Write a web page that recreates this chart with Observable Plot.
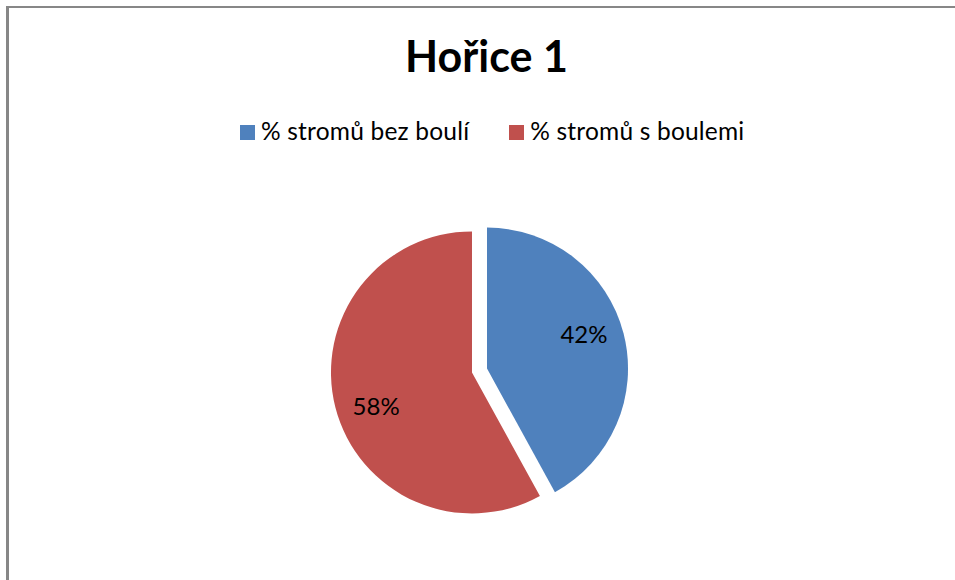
<!DOCTYPE html>
<html>
<head>
<meta charset="utf-8">
<script src="https://cdn.jsdelivr.net/npm/d3@7"></script>
<script src="https://cdn.jsdelivr.net/npm/@observablehq/plot@0.6"></script>
<style>
  html, body { margin: 0; padding: 0; background: #fff; overflow: hidden; }
  body { width: 955px; height: 580px; position: relative; font-family: Lato, "Open Sans", sans-serif; }
  #frame { position: absolute; left: 6px; top: 6px; width: 1000px; height: 700px;
           border-left: 3px solid #878787; border-top: 2px solid #878787; }
  #title { position: absolute; left: 0; width: 955px; top: 31px; text-align: center;
           font-weight: bold; font-size: 43px; line-height: 50px; color: #000; padding-left: 18px; box-sizing: border-box; }
  #legend { position: absolute; left: 240px; top: 116px; display: flex; align-items: center;
            font-size: 24.5px; line-height: 30px; color: #000; white-space: nowrap; letter-spacing: 0.2px; }
  .item { display: flex; align-items: center; }
  .sw { width: 15px; height: 15px; margin-right: 6px; position: relative; top: 1px; }
  #chart { position: absolute; left: 0; top: 150px; }
</style>
</head>
<body>
<div id="frame"></div>
<div id="title"></div>
<div id="legend"></div>
<div id="chart"></div>
<script>
const title = "Hořice 1";
const categories = ["% stromů bez boulí", "% stromů s boulemi"];
const values = [42, 58];
const colors = ["#4F81BD", "#C0504D"];

const data = categories.map((c, i) => ({category: c, value: values[i]}));

document.getElementById("title").textContent = title;
const legend = document.getElementById("legend");
categories.forEach((c, i) => {
  const it = document.createElement("div");
  it.className = "item";
  if (i > 0) it.style.marginLeft = "40px";
  const sw = document.createElement("div");
  sw.className = "sw";
  sw.style.background = colors[i];
  const tx = document.createElement("span");
  tx.textContent = c;
  it.appendChild(sw); it.appendChild(tx);
  legend.appendChild(it);
});

const W = 955, H = 430;
const R = 141;           // pixels per unit radius
const cxPx = 479.5, cyPx = 220.5;
const explode = 0.055;   // fraction of radius

const arcs = d3.pie().sort(null).value(d => d.value)(data);
const labelR = 0.725;
const labelShift = -5 * Math.PI / 180;
const labels = arcs.map(a => {
  const mid = (a.startAngle + a.endAngle) / 2;
  const la = mid + labelShift;
  const ox = Math.sin(mid) * explode, oy = Math.cos(mid) * explode;
  return {
    x: ox + Math.sin(la) * labelR,
    y: oy + Math.cos(la) * labelR,
    text: Math.round(a.data.value) + "%"
  };
});

const color = Plot.scale({color: {type: "ordinal", domain: categories, range: colors}});

function pieMark(index, scales, values, dimensions, context) {
  const x = scales.x, y = scales.y;
  const cx = x(0), cy = y(0), r = x(1) - x(0);
  const g = d3.create("svg:g");
  const arcGen = d3.arc().innerRadius(0).outerRadius(r);
  for (const a of arcs) {
    const mid = (a.startAngle + a.endAngle) / 2;
    const dx = Math.sin(mid) * explode * r, dy = -Math.cos(mid) * explode * r;
    g.append("path")
      .attr("d", arcGen(a))
      .attr("fill", color.apply(a.data.category))
      .attr("transform", `translate(${cx + dx},${cy + dy})`);
  }
  return g.node();
}

const plot = Plot.plot({
  width: W, height: H,
  margin: 0,
  x: {domain: [-cxPx / R, (W - cxPx) / R], axis: null},
  y: {domain: [-(H - cyPx) / R, cyPx / R], axis: null},
  style: {background: "transparent", overflow: "visible"},
  marks: [
    pieMark,
    Plot.text(labels, {x: "x", y: "y", text: "text", fontSize: 24, fill: "#000",
      fontFamily: "Lato, 'Open Sans', sans-serif"})
  ]
});
document.getElementById("chart").appendChild(plot);
</script>
</body>
</html>
